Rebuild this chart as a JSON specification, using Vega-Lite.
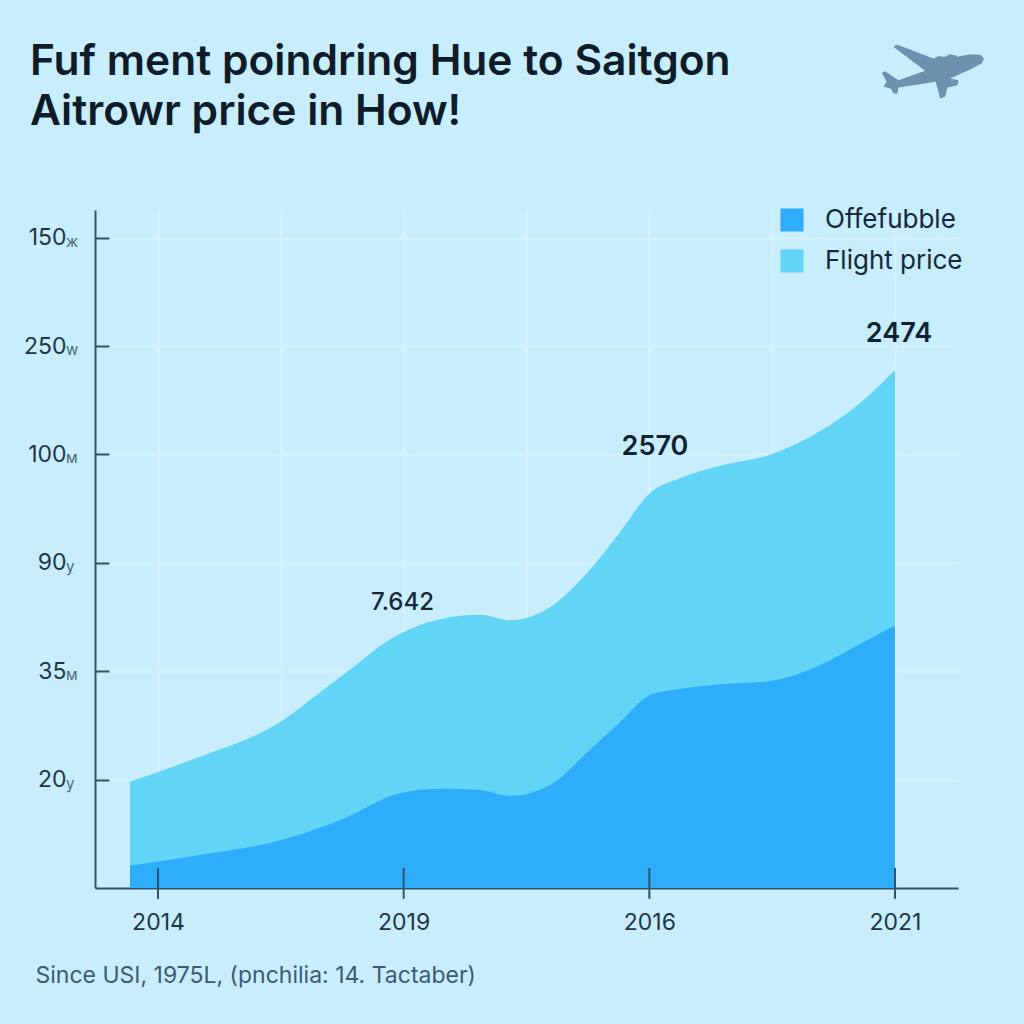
{"$schema":"https://vega.github.io/schema/vega-lite/v6.json","width":863,"height":678,"autosize":"none","padding":{"left":95,"top":210,"right":66,"bottom":136},"background":"#c8eefe","config":{"view":{"stroke":null},"font":"Inter"},
"title":{"text":["Fuf ment poindring Hue to Saitgon","Aitrowr price in How!"],"anchor":"start","frame":"group","dx":-65,"offset":-89,"fontSize":42.5,"fontWeight":600,"lineHeight":50,"color":"#0d1c28","font":"Inter"},
"datasets":{"areas":[
{"t":-0.114,"v":19.6,"series":"Flight price"},{"t":0.171,"v":24.2,"series":"Flight price"},{"t":0.456,"v":29.5,"series":"Flight price"},{"t":0.741,"v":38.9,"series":"Flight price"},{"t":0.985,"v":46.9,"series":"Flight price"},{"t":1.148,"v":49.6,"series":"Flight price"},{"t":1.311,"v":50.4,"series":"Flight price"},{"t":1.433,"v":49.4,"series":"Flight price"},{"t":1.596,"v":51.8,"series":"Flight price"},{"t":1.758,"v":58.7,"series":"Flight price"},{"t":1.881,"v":65.7,"series":"Flight price"},{"t":2.003,"v":72.9,"series":"Flight price"},{"t":2.125,"v":75.6,"series":"Flight price"},{"t":2.288,"v":77.9,"series":"Flight price"},{"t":2.491,"v":79.9,"series":"Flight price"},{"t":2.695,"v":84.3,"series":"Flight price"},{"t":2.858,"v":89.5,"series":"Flight price"},{"t":3.0,"v":95.6,"series":"Flight price"},
{"t":-0.114,"v":4.1,"series":"Offefubble"},{"t":0.171,"v":6.1,"series":"Offefubble"},{"t":0.456,"v":8.3,"series":"Offefubble"},{"t":0.741,"v":12.5,"series":"Offefubble"},{"t":0.985,"v":17.5,"series":"Offefubble"},{"t":1.148,"v":18.3,"series":"Offefubble"},{"t":1.311,"v":18.1,"series":"Offefubble"},{"t":1.433,"v":17.0,"series":"Offefubble"},{"t":1.596,"v":19.0,"series":"Offefubble"},{"t":1.758,"v":25.5,"series":"Offefubble"},{"t":1.881,"v":30.6,"series":"Offefubble"},{"t":2.003,"v":35.6,"series":"Offefubble"},{"t":2.125,"v":36.7,"series":"Offefubble"},{"t":2.288,"v":37.6,"series":"Offefubble"},{"t":2.491,"v":38.2,"series":"Offefubble"},{"t":2.695,"v":41.1,"series":"Offefubble"},{"t":2.858,"v":45.0,"series":"Offefubble"},{"t":3.0,"v":48.5,"series":"Offefubble"}],
"ticks":[{"t":0,"a":3.7,"b":-2},{"t":1,"a":3.7,"b":-2},{"t":2,"a":3.7,"b":-2},{"t":3,"a":3.7,"b":-2}],
"units":[{"t":-0.3745,"v":120,"unit":"ж"},{"t":-0.3745,"v":100,"unit":"w"},{"t":-0.3745,"v":80,"unit":"м"},{"t":-0.3745,"v":60,"unit":"y"},{"t":-0.3745,"v":40,"unit":"м"},{"t":-0.3745,"v":20,"unit":"y"}]},
"layer":[
{"data":{"name":"areas"},"mark":{"type":"area","interpolate":"monotone"},
"encoding":{"x":{"field":"t","type":"quantitative","scale":{"domain":[-0.2564,3.2564],"nice":false,"zero":false},
"axis":{"title":"Since USI, 1975L, (pnchilia: 14. Tactaber)","titleX":-60,"titleY":87,"titleAnchor":"start","titleAlign":"left","titleBaseline":"middle","titleFontSize":23,"titleFontWeight":"normal","titleColor":"#3d5a72","values":[0,0.5,1,1.5,2,2.5,3],"grid":true,"gridColor":"#d6f2fe","gridWidth":2,"ticks":false,"domainColor":"#2f5468","domainWidth":2,"labelExpr":"datum.value==0?'2014':datum.value==1?'2019':datum.value==2?'2016':datum.value==3?'2021':''","labelFontSize":23,"labelColor":"#1f3545","labelPadding":23,"labelFlush":false,"labelOverlap":false}},
"y":{"field":"v","type":"quantitative","stack":null,"scale":{"domain":[0,125.1],"nice":false},
"axis":{"title":null,"values":[20,40,60,80,100,120],"grid":true,"gridColor":"#d6f2fe","gridWidth":2,"tickColor":"#2f5468","tickSize":-14,"tickWidth":2,"domainColor":"#2f5468","domainWidth":2,"labelExpr":"datum.value==120?'150':datum.value==100?'250':datum.value==80?'100':datum.value==60?'90':datum.value==40?'35':'20'","labelFontSize":23,"labelColor":"#1f3545","labelPadding":43}},
"color":{"field":"series","type":"nominal","scale":{"domain":["Offefubble","Flight price"],"range":["#2eaefa","#62d4f6"]},
"legend":{"title":null,"orient":"none","legendX":684,"legendY":-3,"symbolType":"square","symbolSize":529,"symbolStrokeWidth":0,"symbolOpacity":1,"labelFontSize":26,"labelColor":"#14283a","labelOffset":20,"rowPadding":15}}}},
{"data":{"name":"ticks"},"mark":{"type":"rule","color":"#2f5468","strokeWidth":2},"encoding":{"x":{"field":"t","type":"quantitative"},"y":{"field":"a","type":"quantitative"},"y2":{"field":"b"}}},
{"data":{"name":"units"},"mark":{"type":"text","align":"left","baseline":"middle","dy":4,"fontSize":15,"color":"#4a6878"},"encoding":{"x":{"field":"t","type":"quantitative"},"y":{"field":"v","type":"quantitative"},"text":{"field":"unit"}}},
{"data":{"values":[{"t":0.995,"v":52.5,"label":"7.642"}]},"mark":{"type":"text","fontSize":24,"fontWeight":500,"color":"#14283a"},"encoding":{"x":{"field":"t","type":"quantitative"},"y":{"field":"v","type":"quantitative"},"text":{"field":"label"}}},
{"data":{"values":[{"t":2.023,"v":81.3,"label":"2570"},{"t":3.016,"v":102.2,"label":"2474"}]},"mark":{"type":"text","fontSize":27,"fontWeight":600,"color":"#0f2233"},"encoding":{"x":{"field":"t","type":"quantitative"},"y":{"field":"v","type":"quantitative"},"text":{"field":"label"}}},
{"data":{"values":[{"t":3.155,"v":150.9,"icon":"plane"}]},"mark":{"type":"point","filled":true,"clip":false,"opacity":1,"size":10000,"color":"#6b93b0","shape":"M1.02,-0.233L0.973,-0.133L0.74,-0.013L0.34,0.167L0.507,0.2L0.487,0.3L0.287,0.347L0.24,0.533L0.14,0.567L0.053,0.233L-0.693,0.347L-0.713,0.467L-0.793,0.467L-0.847,0.367L-0.993,0.333L-0.927,0.233L-1.027,0.053L-0.96,0.02L-0.693,0.2L-0.16,0.013L-0.793,-0.467L-0.727,-0.513L0.007,-0.233L0.107,-0.28L0.24,-0.267L0.34,-0.32L0.46,-0.293L0.487,-0.267L0.74,-0.32L0.94,-0.307Z"},"encoding":{"x":{"field":"t","type":"quantitative"},"y":{"field":"v","type":"quantitative"}}}
]}
